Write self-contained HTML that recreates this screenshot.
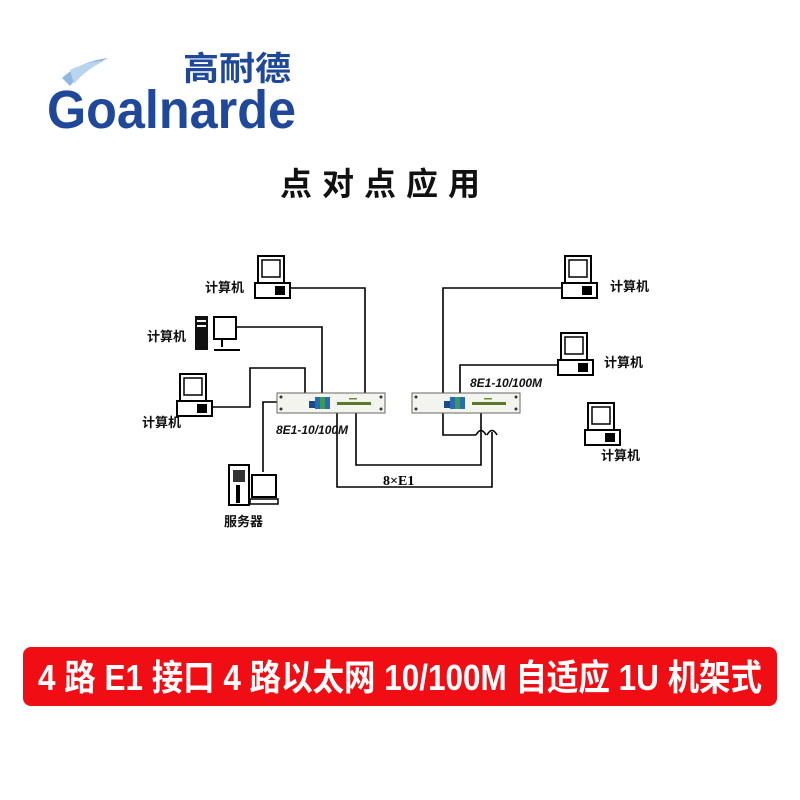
<!DOCTYPE html>
<html><head><meta charset="utf-8"><style>
body{margin:0;background:#fff;width:800px;height:800px;overflow:hidden;position:relative;font-family:"Liberation Sans","Noto Sans CJK SC",sans-serif}
.abs{position:absolute}
</style></head><body>
<svg class="abs" style="left:0;top:0" width="800" height="800" viewBox="0 0 800 800">
<defs>
<g id="pc">
<rect x="3" y="0" width="26" height="27" fill="#fff" stroke="#000" stroke-width="2"/>
<rect x="7" y="4" width="18" height="17" fill="#fff" stroke="#000" stroke-width="1.5"/>
<rect x="0" y="27" width="35" height="15" fill="#fff" stroke="#000" stroke-width="2"/>
<rect x="20" y="30" width="10" height="9" fill="#000"/>
</g>
<g id="dev">
<rect x="0" y="0" width="108" height="20" fill="#f4f4ee" stroke="#666" stroke-width="1"/>
<circle cx="4" cy="4" r="1.5" fill="#333"/><circle cx="4" cy="16" r="1.5" fill="#333"/>
<circle cx="104" cy="4" r="1.5" fill="#333"/><circle cx="104" cy="16" r="1.5" fill="#333"/>
<rect x="32" y="8" width="6" height="7" fill="#1a4a8a"/>
<rect x="38" y="4" width="5" height="12" fill="#2a6ab0"/>
<rect x="43" y="4" width="5" height="12" fill="#3a9a5a"/>
<rect x="48" y="4" width="5" height="12" fill="#2a6ab0"/>
<rect x="60" y="9" width="34" height="3" fill="#5a7a2a"/>
<rect x="72" y="5" width="8" height="1.5" fill="#6a8a3a"/>
</g>
</defs>
<g fill="none" stroke="#000" stroke-width="1.6">
<polyline points="290,288 365,288 365,393"/>
<polyline points="237,327 322,327 322,393"/>
<polyline points="213,407 250,407 250,368 305,368 305,393"/>
<polyline points="263,472 263,402 277,402"/>
<polyline points="337,413 337,487 492,487 492,432"/>
<polyline points="356,413 356,465 481,465 481,413"/>
<polyline points="443,393 443,288 565,288"/>
<polyline points="460,393 460,365 558,365"/>
<polyline points="443,413 443,435 476,435 M486,435 487,435 M497,435 585,435"/>
<path d="M476,435 q5,-9 10,0 M487,435 q5,-9 10,0"/>
</g>
<use href="#dev" x="277" y="393"/>
<use href="#dev" x="412" y="393"/>
<use href="#pc" x="255" y="256"/>
<use href="#pc" x="562" y="256"/>
<use href="#pc" x="558" y="333"/>
<use href="#pc" x="585" y="403"/>
<use href="#pc" x="177" y="374"/>
<rect x="195" y="316" width="13" height="34" fill="#111"/>
<rect x="197" y="320" width="9" height="2" fill="#fff"/><rect x="197" y="325" width="9" height="2" fill="#fff"/>
<rect x="214" y="317" width="22" height="22" fill="#fff" stroke="#000" stroke-width="2"/>
<path d="M222,339 L222,347 M214,350 L240,350" stroke="#000" stroke-width="2"/>
<rect x="229" y="465" width="20" height="40" fill="#fff" stroke="#000" stroke-width="2"/>
<rect x="233" y="470" width="12" height="12" fill="#333"/>
<rect x="236" y="485" width="4" height="18" fill="#000"/>
<rect x="252" y="475" width="24" height="22" fill="#fff" stroke="#000" stroke-width="2"/>
<rect x="250" y="499" width="28" height="5" fill="#fff" stroke="#000" stroke-width="1.5"/>
<g font-family="Liberation Sans,Noto Sans CJK SC,sans-serif" font-size="13" font-weight="bold" fill="#111">
<text x="205" y="292">计算机</text>
<text x="147" y="341">计算机</text>
<text x="142" y="427">计算机</text>
<text x="224" y="526">服务器</text>
<text x="610" y="291">计算机</text>
<text x="604" y="367">计算机</text>
<text x="601" y="460">计算机</text>
</g>
<g font-family="Liberation Sans,sans-serif" font-size="12" font-style="italic" font-weight="bold" fill="#111">
<text x="276" y="434">8E1-10/100M</text>
<text x="470" y="387">8E1-10/100M</text>
</g>
<text x="383" y="485" font-family="Liberation Serif,Noto Serif CJK SC,serif" font-size="14" font-weight="bold">8×E1</text>
<text x="47" y="128" font-family="Liberation Sans,sans-serif" font-size="54" font-weight="bold" fill="#20489a" textLength="249" lengthAdjust="spacingAndGlyphs">Goalnarde</text>
<path d="M62,78 C75,66 92,60 108,58 C92,66 80,74 70,86Z" fill="#8fb8e0"/>
<path d="M70,70 C82,64 95,61 104,61 C90,68 80,76 74,84Z" fill="#b8d4ee"/>
<text x="183" y="80" font-family="Liberation Sans,Noto Sans CJK SC,sans-serif" font-size="33" font-weight="bold" fill="#20489a" textLength="108" lengthAdjust="spacingAndGlyphs">高耐德</text>
<text x="280" y="195" font-family="Liberation Sans,Noto Sans CJK SC,sans-serif" font-size="32" font-weight="bold" fill="#111" textLength="200" lengthAdjust="spacing">点对点应用</text>
<rect x="23" y="647" width="754" height="59" rx="8" fill="#f00d14"/>
<text x="400" y="690" text-anchor="middle" font-family="Liberation Sans,Noto Sans CJK SC,sans-serif" font-size="36" font-weight="bold" fill="#fff" textLength="724" lengthAdjust="spacingAndGlyphs">4 路 E1 接口 4 路以太网 10/100M 自适应 1U 机架式</text>
</svg>
</body></html>
